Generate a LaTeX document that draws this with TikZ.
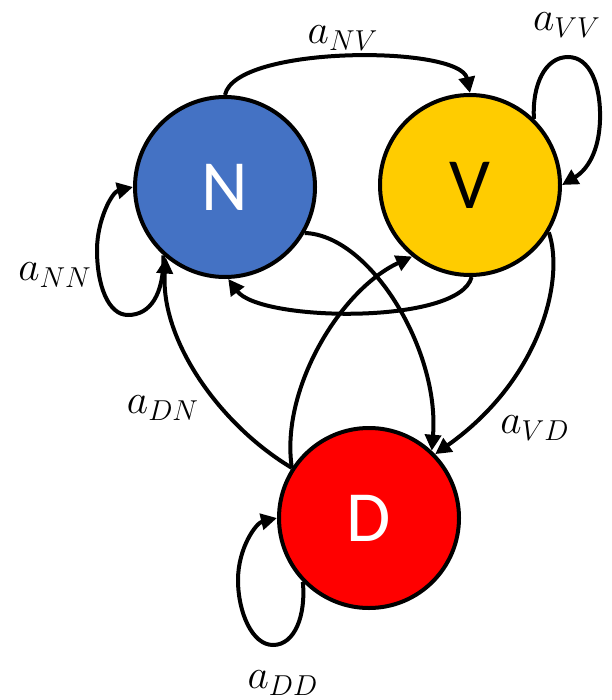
\documentclass[tikz,border=0pt]{standalone}
\usepackage{fontspec}
\newfontfamily\nodefont{Carlito}
\usetikzlibrary{arrows.meta}
\definecolor{nblue}{HTML}{4472C4}
\definecolor{vyellow}{HTML}{FFCC00}
\definecolor{dred}{HTML}{FF0000}
\begin{document}
\begin{tikzpicture}[x=0.5pt,y=-0.5pt,
  state/.style={circle,draw=black,line width=2pt,minimum size=90pt,inner sep=0pt,
    font=\nodefont\fontsize{36}{36}\selectfont},
  edge/.style={line width=2pt,-{Triangle[length=8pt,width=8pt]}},
  lbl/.style={font=\fontsize{21}{21}\selectfont,inner sep=0pt}]
\useasboundingbox (0,0) rectangle (611,700);
\node[state,fill=nblue,text=white] (N) at (225,187) {N};
\node[state,fill=vyellow,text=black] (V) at (470,185) {V};
\node[state,fill=dred,text=white] (D) at (369,518) {D};

% N -> V
\draw[edge] (N.90) .. controls (235,45) and (460,45) .. (V.90);
% V -> V
\draw[edge] (V.46) .. controls (532,85) and (545,57) .. (568,57)
  .. controls (590,57) and (601,85) .. (600,120)
  .. controls (599,152) and (587,170) .. (V.0);
% N -> N
\draw[edge] (N.228) .. controls (164,295) and (150,315) .. (128,315)
  .. controls (108,315) and (97,285) .. (97,250)
  .. controls (97,220) and (112,192) .. (N.180);
% D -> D
\draw[edge] (D.224) .. controls (306,615) and (295,645) .. (273,645)
  .. controls (252,645) and (238,612) .. (238,580)
  .. controls (238,548) and (256,523) .. (D.180);
% V -> N
\draw[edge] (V.-89) .. controls (460,325) and (260,322) .. (N.-88);
% N -> D
\draw[edge] (N.-30) .. controls (370,235) and (440,350) .. (D.47);
% V -> D
\draw[edge] (V.-31) .. controls (565,280) and (540,380) .. (D.44);
% D -> V
\draw[edge] (D.147) .. controls (280,390) and (340,290) .. (V.231);
% D -> N
\draw[edge] (D.147) .. controls (220,425) and (160,340) .. (N.230);

\node[lbl] (lNV) at (343,38) {$a_{NV}$};
\node[lbl] (lVV) at (567,25) {$a_{VV}$};
\node[lbl] (lNN) at (55,275) {$a_{NN}$};
\node[lbl] (lDN) at (163,408) {$a_{DN}$};
\node[lbl] (lVD) at (535,428) {$a_{VD}$};
\node[lbl] (lDD) at (283,683) {$a_{DD}$};
\end{tikzpicture}
\end{document}
